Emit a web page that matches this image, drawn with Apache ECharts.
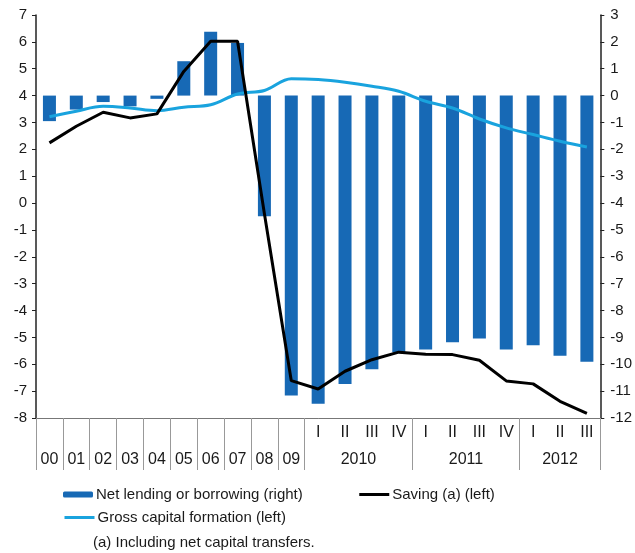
<!DOCTYPE html>
<html>
<head>
<meta charset="utf-8">
<script src="https://cdn.jsdelivr.net/npm/echarts@6/dist/echarts.min.js"></script>
<style>
  html, body { margin: 0; padding: 0; background: #fff; }
  #chart { width: 635px; height: 553px; }
</style>
</head>
<body>
<div id="chart"></div>
<script>
var categories = ['00', '01', '02', '03', '04', '05', '06', '07', '08', '09',
    '2010 I', '2010 II', '2010 III', '2010 IV',
    '2011 I', '2011 II', '2011 III', '2011 IV',
    '2012 I', '2012 II', '2012 III'];

// right axis
var netLending = [-0.95, -0.52, -0.24, -0.40, -0.12, 1.28, 2.38, 1.96, -4.49, -11.16,
    -11.47, -10.73, -10.19, -9.55, -9.45, -9.18, -9.04, -9.45, -9.29, -9.68, -9.91];
// left axis
var saving = [2.24, 2.86, 3.38, 3.17, 3.32, 4.9, 6.02, 6.02, -0.4, -6.61,
    -6.92, -6.26, -5.83, -5.55, -5.63, -5.64, -5.85, -6.62, -6.73, -7.38, -7.83];
var grossCapital = [3.21, 3.42, 3.60, 3.54, 3.44, 3.57, 3.66, 4.06, 4.19, 4.63,
    4.60, 4.50, 4.35, 4.16, 3.79, 3.54, 3.13, 2.80, 2.55, 2.30, 2.09];

// lower row: years 00-09 one per cell, then quarterly groups
var yearGroups = [
    { label: '2010', start: 10, count: 4 },
    { label: '2011', start: 14, count: 4 },
    { label: '2012', start: 18, count: 3 }
];

var names = ['Net lending or borrowing (right)', 'Saving (a) (left)', 'Gross capital formation (left)'];
var font = 'Liberation Sans, Arial, sans-serif';

// half-step positions for the lower label row and the long dividers
var halfLabels = [];
for (var k = 0; k <= categories.length * 2; k++) halfLabels.push('');
for (var i = 0; i < 10; i++) halfLabels[2 * i + 1] = categories[i];
var longTicks = {};
for (var b = 0; b <= 10; b++) longTicks[2 * b] = true;
yearGroups.forEach(function (g) {
    halfLabels[2 * g.start + g.count] = g.label;
    longTicks[2 * (g.start + g.count)] = true;
});
var shortTicks = {};
yearGroups.forEach(function (g) {
    for (var q = 1; q < g.count; q++) shortTicks[g.start + q] = true;
});

var chart = echarts.init(document.getElementById('chart'));
var option = {
    animation: false,
    textStyle: { fontFamily: font },
    title: {
        text: '(a) Including net capital transfers.',
        left: 93,
        top: 535,
        padding: 0,
        textStyle: { fontSize: 15, fontWeight: 'normal', color: '#1a1a1a', fontFamily: font }
    },
    legend: [
        {
            // no dot on the line icons
            data: [names[0], { name: names[1], itemStyle: { opacity: 0 }, lineStyle: { width: 3 } }],
            left: 63,
            top: 487,
            padding: 0,
            itemWidth: 30,
            itemHeight: 6,
            itemGap: 55,
            textStyle: { fontSize: 15, color: '#1a1a1a', padding: [0, 0, 0, -2] }
        },
        {
            data: [{ name: names[2], itemStyle: { opacity: 0 }, lineStyle: { width: 3 } }],
            left: 63,
            top: 510,
            padding: 0,
            itemWidth: 30,
            itemHeight: 6,
            textStyle: { fontSize: 15, color: '#1a1a1a', padding: [0, 0, 0, -2] }
        }
    ],
    grid: { left: 36, right: 33, top: 15, bottom: 135 },
    xAxis: [
        {
            type: 'category',
            data: categories,
            position: 'bottom',
            axisLine: { onZero: false, lineStyle: { color: '#777', width: 1 } },
            axisTick: {
                length: 25,
                lineStyle: { color: '#999' },
                interval: function (index) { return !!shortTicks[index]; }
            },
            axisLabel: {
                interval: 0,
                margin: 7,
                fontSize: 16,
                color: '#1a1a1a',
                formatter: function (v) {
                    var p = v.split(' ');
                    return p.length > 1 ? p[1] : '';
                }
            }
        },
        {
            type: 'category',
            boundaryGap: false,
            data: halfLabels.map(function (s, idx) { return 'h' + idx; }),
            position: 'bottom',
            axisLine: { show: false, onZero: false },
            axisTick: {
                length: 52,
                lineStyle: { color: '#999' },
                interval: function (index) { return !!longTicks[index]; }
            },
            axisLabel: {
                interval: 0,
                margin: 34,
                fontSize: 16,
                color: '#1a1a1a',
                formatter: function (v, idx) { return halfLabels[idx]; }
            }
        }
    ],
    yAxis: [
        {
            type: 'value',
            min: -8,
            max: 7,
            interval: 1,
            position: 'left',
            axisLine: { show: true, lineStyle: { color: '#222', width: 1.5 } },
            axisTick: { show: true, length: 4, lineStyle: { color: '#222' } },
            axisLabel: { fontSize: 15, color: '#1a1a1a', margin: 9 },
            splitLine: { show: false }
        },
        {
            type: 'value',
            min: -12,
            max: 3,
            interval: 1,
            position: 'right',
            axisLine: { show: true, lineStyle: { color: '#222', width: 1.5 } },
            axisTick: { show: true, length: 4, lineStyle: { color: '#222' } },
            axisLabel: { fontSize: 15, color: '#1a1a1a', margin: 10 },
            splitLine: { show: false }
        }
    ],
    series: [
        {
            name: names[0],
            type: 'bar',
            xAxisIndex: 0,
            yAxisIndex: 1,
            data: netLending,
            barWidth: 13,
            itemStyle: { color: '#1769b5' }
        },
        {
            name: names[2],
            type: 'line',
            xAxisIndex: 0,
            yAxisIndex: 0,
            data: grossCapital,
            smooth: 0.35,
            showSymbol: false,
            symbol: 'none',
            lineStyle: { color: '#19a3de', width: 3 },
            itemStyle: { color: '#19a3de' }
        },
        {
            name: names[1],
            type: 'line',
            xAxisIndex: 0,
            yAxisIndex: 0,
            data: saving,
            showSymbol: false,
            symbol: 'none',
            lineStyle: { color: '#000', width: 3 },
            itemStyle: { color: '#000' }
        }
    ]
};

option && chart.setOption(option);

window.addEventListener('resize', function () {
    chart.resize();
});
</script>
</body>
</html>
